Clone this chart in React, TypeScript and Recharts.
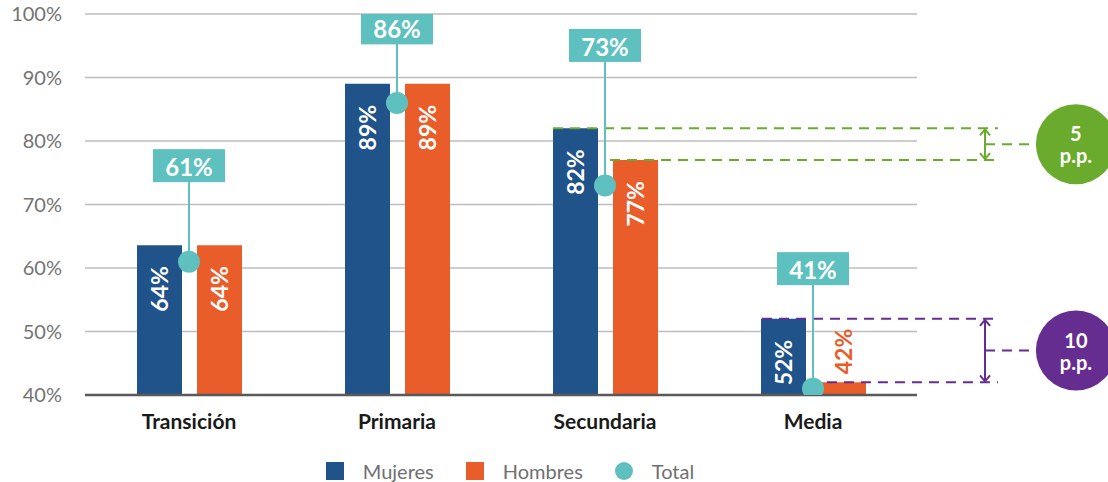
import { ComposedChart, Bar, Scatter, XAxis, YAxis, CartesianGrid, Legend, LabelList, ReferenceLine, ReferenceDot } from 'recharts';

const categories = ['Transición', 'Primaria', 'Secundaria', 'Media'];
const mujeres = [63.6, 89, 82, 52];
const hombres = [63.6, 89, 77, 42];
const total = [61, 86, 73, 41];
const yTicks = [40, 50, 60, 70, 80, 90, 100];
const seriesNames = ['Mujeres', 'Hombres', 'Total'];

const BLUE = '#20538a';
const ORANGE = '#e95d2a';
const TEAL = '#5ec1bf';
const GREEN = '#6aab2e';
const PURPLE = '#662d91';
const FONT = 'Lato, "Open Sans", sans-serif';

// how high (px) the total box sits above its dot
const TOTAL_LIFT = [96, 75, 140, 120];

const data = categories.map((name, i) => ({
  name,
  mujeres: mujeres[i],
  hombres: hombres[i],
  total: total[i],
}));

const pct = (v: number) => `${Math.round(v)}%`;

function BarLabel(props: any) {
  const { x, y, width, height, value, fill, outsideFill } = props;
  const cx = x + width / 2;
  const inside = height > 60;
  const ay = inside ? y + 21 : y - 8;
  return (
    <text x={cx} y={ay} transform={`rotate(-90 ${cx} ${ay})`} textAnchor={inside ? 'end' : 'start'}
      dominantBaseline="central" fill={inside ? fill : outsideFill} fontSize={23} fontWeight={700} fontFamily={FONT}>
      {pct(value)}
    </text>
  );
}

function TotalShape(props: any) {
  const { cx, cy, payload } = props;
  const i = categories.indexOf(payload.name);
  const by = cy - TOTAL_LIFT[i];
  return (
    <g>
      <line x1={cx} x2={cx} y1={cy} y2={by} stroke={TEAL} strokeWidth={2} />
      <rect x={cx - 36} y={by - 16.5} width={72} height={33} fill={TEAL} />
      <text x={cx} y={by + 1} textAnchor="middle" dominantBaseline="central" fill="#fff"
        fontSize={24} fontWeight={700} fontFamily={FONT}>
        {pct(payload.total)}
      </text>
      <circle cx={cx} cy={cy} r={11} fill={TEAL} />
    </g>
  );
}

const makeArrow = (color: string) => (p: any) => {
  const { x1, y1, x2, y2 } = p;
  const top = Math.min(y1, y2);
  const bot = Math.max(y1, y2);
  return (
    <g stroke={color} strokeWidth={2} fill="none">
      <line x1={x1} x2={x2} y1={top + 1} y2={bot - 1} />
      <polyline points={`${x1 - 5},${top + 7} ${x1},${top + 1} ${x1 + 5},${top + 7}`} />
      <polyline points={`${x1 - 5},${bot - 7} ${x1},${bot - 1} ${x1 + 5},${bot - 7}`} />
    </g>
  );
};

const makeBadge = (color: string, text: string) => (p: any) => (
  <g>
    <circle cx={p.cx} cy={p.cy} r={40} fill={color} />
    <text x={p.cx} y={p.cy - 11} textAnchor="middle" dominantBaseline="central" fill="#fff"
      fontSize={20} fontWeight={700} fontFamily={FONT}>{text}</text>
    <text x={p.cx} y={p.cy + 11} textAnchor="middle" dominantBaseline="central" fill="#fff"
      fontSize={20} fontWeight={700} fontFamily={FONT}>p.p.</text>
  </g>
);

function Brecha({ hi, lo, xHi, xLo, color }: { hi: number; lo: number; xHi: number; xLo: number; color: string }) {
  const mid = (hi + lo) / 2;
  const dash = '10 7';
  return [
    <ReferenceLine key={`a${hi}`} xAxisId="n" ifOverflow="visible" segment={[{ x: xHi, y: hi }, { x: 4.389, y: hi }]}
      stroke={color} strokeWidth={2} strokeDasharray={dash} />,
    <ReferenceLine key={`b${hi}`} xAxisId="n" ifOverflow="visible" segment={[{ x: xLo, y: lo }, { x: 4.389, y: lo }]}
      stroke={color} strokeWidth={2} strokeDasharray={dash} />,
    <ReferenceLine key={`c${hi}`} xAxisId="n" ifOverflow="visible" segment={[{ x: 4.327, y: mid }, { x: 4.7, y: mid }]}
      stroke={color} strokeWidth={2} strokeDasharray={dash} />,
    <ReferenceLine key={`d${hi}`} xAxisId="n" ifOverflow="visible" segment={[{ x: 4.327, y: hi }, { x: 4.327, y: lo }]}
      shape={makeArrow(color)} />,
    <ReferenceDot key={`e${hi}`} xAxisId="n" ifOverflow="visible" x={4.764} y={mid} r={40}
      shape={makeBadge(color, String(Math.round(hi - lo)))} />,
  ];
}

function LegendContent() {
  const colors = [BLUE, ORANGE, TEAL];
  return (
    <div style={{ display: 'flex', justifyContent: 'center', alignItems: 'center', height: 30, paddingTop: 8, boxSizing: 'border-box', fontFamily: FONT }}>
      {seriesNames.map((n, i) => (
        <div key={n} style={{ display: 'flex', alignItems: 'center', marginRight: i < 2 ? 32 : 0 }}>
          <span style={{ width: 18, height: 18, background: colors[i], borderRadius: i === 2 ? 9 : 0, display: 'inline-block', marginRight: 19 }} />
          <span style={{ fontSize: 20, color: '#707070', lineHeight: '22px' }}>{n}</span>
        </div>
      ))}
    </div>
  );
}

export default function App() {
  return (
    <div style={{ position: 'absolute', left: 0, top: 0, width: 1108, height: 482, fontFamily: FONT, background: '#fff' }}>
      <ComposedChart width={1108} height={482} data={data} margin={{ top: 14, right: 191, left: 15, bottom: 0 }}
        barSize={45} barGap={15}>
        <CartesianGrid vertical={false} stroke="#bdbdbd" strokeWidth={1.5} />
        <XAxis dataKey="name" tickLine={false} tickSize={0} tickMargin={19} height={57}
          axisLine={{ stroke: '#595959', strokeWidth: 2.5 }}
          tick={{ fontSize: 21, fontWeight: 700, fill: '#1a1a1a', fontFamily: FONT }} />
        <XAxis xAxisId="n" dataKey="sinDatos" type="number" domain={[0, 4]} allowDataOverflow hide />
        <YAxis type="number" domain={[40, 100]} ticks={yTicks} allowDataOverflow width={70}
          axisLine={false} tickLine={false} tickSize={0} tickMargin={23} tickFormatter={(v) => `${v}%`}
          tick={{ fontSize: 20, fill: '#737373', fontFamily: FONT }} />
        <Legend verticalAlign="bottom" height={30} content={<LegendContent />} wrapperStyle={{ left: 0, width: 1020 }} />
        <Bar dataKey="mujeres" name={seriesNames[0]} fill={BLUE} isAnimationActive={false}>
          <LabelList dataKey="mujeres" content={(p: any) => <BarLabel {...p} fill="#fff" outsideFill={BLUE} />} />
        </Bar>
        <Bar dataKey="hombres" name={seriesNames[1]} fill={ORANGE} isAnimationActive={false}>
          <LabelList dataKey="hombres" content={(p: any) => <BarLabel {...p} fill="#fff" outsideFill={ORANGE} />} />
        </Bar>
        {Brecha({ hi: mujeres[2], lo: hombres[2], xHi: 2.25, xLo: 2.524, color: GREEN })}
        {Brecha({ hi: mujeres[3], lo: hombres[3], xHi: 3.255, xLo: 3.567, color: PURPLE })}
        <Scatter dataKey="total" name={seriesNames[2]} fill={TEAL} shape={<TotalShape />} isAnimationActive={false} />
      </ComposedChart>
    </div>
  );
}
